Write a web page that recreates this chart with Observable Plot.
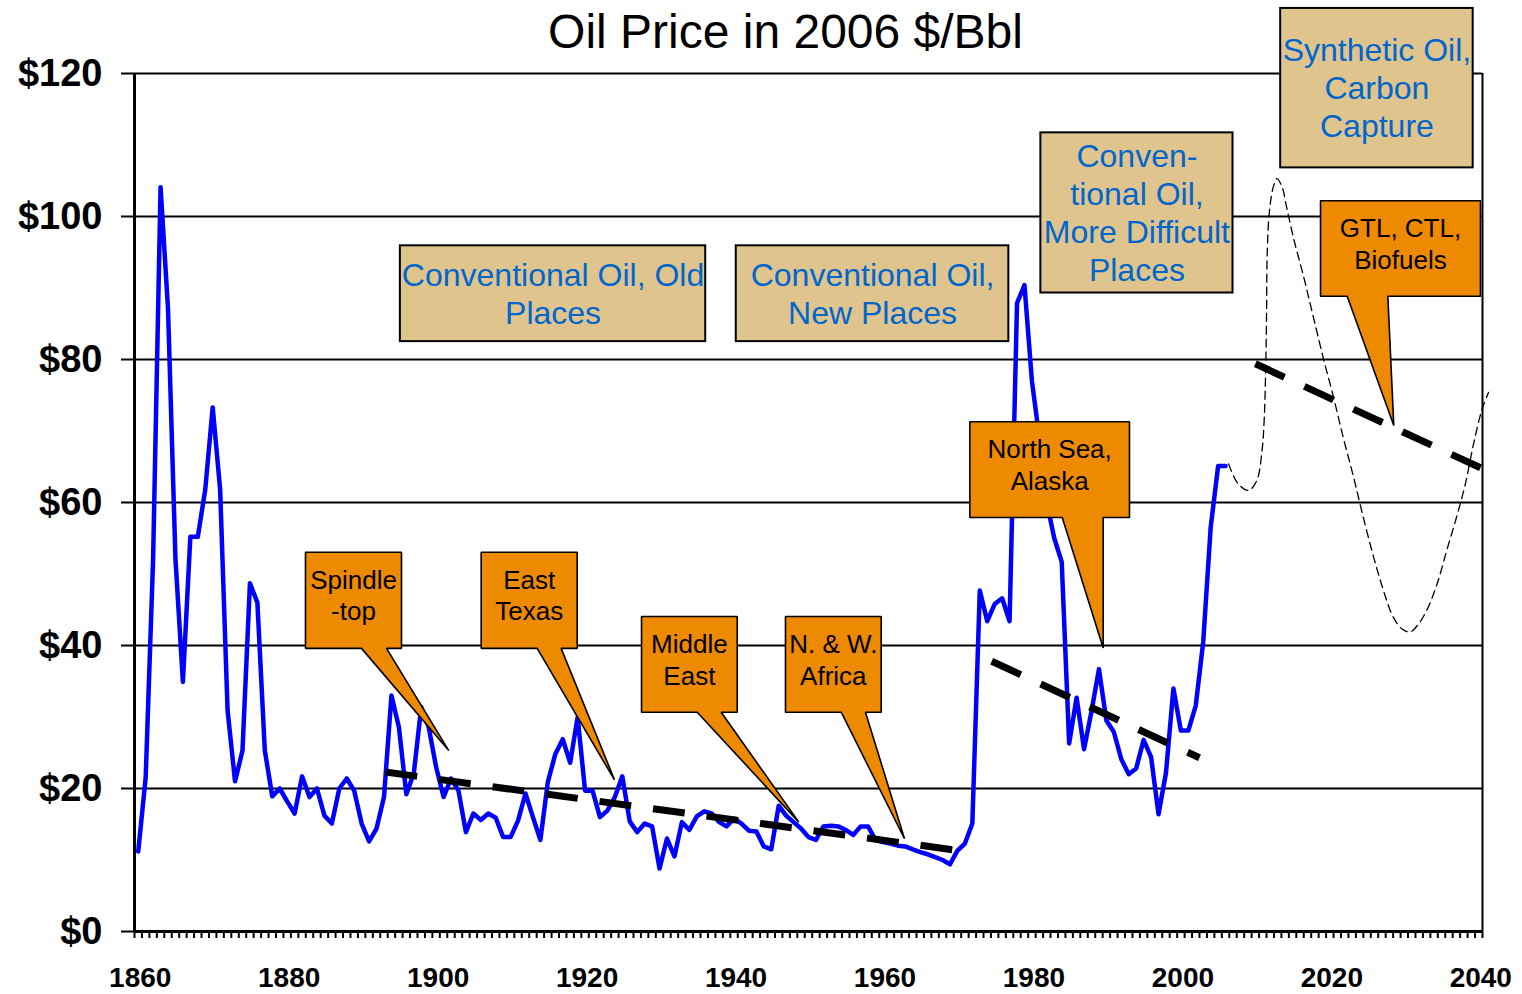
<!DOCTYPE html>
<html><head><meta charset="utf-8">
<script src="https://cdn.jsdelivr.net/npm/d3@7"></script>
<script src="https://cdn.jsdelivr.net/npm/@observablehq/plot@0.6"></script>
<style>html,body{margin:0;padding:0;background:#fff} svg{display:block}</style>
</head><body><div id="chart"></div>
<script>
// ---- Historical oil price, 2006 $/Bbl, one value per year starting 1860 ----
const startYear = 1860;
const price = [
  11.2, 21.5, 52.1, 104.1, 87.1, 52.1, 34.9, 55.2, 55.2, 61.8,   // 1860-1869
  73.3, 61.8, 30.9, 21.0, 25.3, 48.7, 46.0, 25.3, 18.9, 20.0,    // 1870-1879
  18.2, 16.5, 21.7, 18.8, 20.0, 16.2, 15.1, 20.0, 21.4, 19.7,    // 1880-1889
  15.1, 12.6, 14.4, 18.8, 33.0, 28.6, 19.2, 22.1, 31.4, 28.6,    // 1890-1899
  23.0, 18.8, 21.4, 19.7, 13.9, 16.5, 15.6, 16.5, 15.9, 13.2,    // 1900-1909
  13.2, 15.5, 19.3, 16.0, 12.8, 20.9, 24.8, 26.9, 23.6, 30.0,    // 1910-1919
  19.7, 19.7, 16.0, 16.9, 18.8, 21.7, 15.4, 13.9, 15.1, 14.7,    // 1920-1929
  8.8, 13.0, 10.5, 15.3, 14.2, 16.1, 16.8, 16.5, 15.3, 14.7,     // 1930-1939
  15.8, 15.1, 14.1, 14.0, 11.9, 11.5, 17.6, 16.2, 15.3, 14.4,    // 1940-1949
  13.2, 12.8, 14.7, 14.8, 14.7, 14.2, 13.5, 14.7, 14.7, 12.8,    // 1950-1959
  12.5, 12.3, 12.0, 11.9, 11.5, 11.1, 10.8, 10.4, 10.0, 9.4,     // 1960-1969
  11.3, 12.3, 15.1, 47.7, 43.4, 45.8, 46.6, 43.4, 87.9, 90.4,    // 1970-1979
  77.0, 69.0, 60.0, 55.0, 51.7, 26.3, 32.7, 25.5, 30.8, 36.7,    // 1980-1989
  29.5, 27.9, 24.1, 22.0, 22.8, 26.8, 24.4, 16.4, 22.2, 34.0,    // 1990-1999
  28.1, 28.1, 31.6, 40.5, 56.5, 65.1, 65.1                       // 2000-2006
];

// ---- Thin dashed scenario curve ----
const forecastYear  = [2006.4, 2007.7, 2009.1, 2010.2, 2010.9, 2011.2, 2011.4, 2011.5, 2011.6, 2011.9, 2012.4, 2012.9, 2013.6, 2014.2, 2015.1, 2016.5, 2017.8, 2019.1, 2020.5, 2021.8, 2023.2, 2024.5, 2025.9, 2027.2, 2028.5, 2029.7, 2030.8, 2031.9, 2033.0, 2034.4, 2035.7, 2037.0, 2038.2, 2039.3, 2040.4, 2041.3];
const forecastPrice = [65.4, 62.6, 61.7, 63.1, 67.3, 71.9, 79.4, 85.9, 95.2, 100.8, 104.1, 105.3, 104.1, 101.3, 97.1, 91.5, 85.9, 80.3, 74.7, 69.1, 63.5, 57.9, 52.3, 47.7, 44.0, 42.3, 41.9, 43.0, 44.9, 48.6, 53.3, 57.9, 62.6, 68.2, 72.9, 75.4];

// ---- Thick dashed trend lines ----
const trendId    = ["old", "old", "mid", "mid", "new", "new"];
const trendYear  = [1893.2, 1970.3, 1974.6, 2002.5, 2010.0, 2041.6];
const trendPrice = [22.3, 11.3, 37.8, 24.3, 79.4, 64.2];

// ---- Axis ticks ----
const yTicks = [0, 20, 40, 60, 80, 100, 120];
const xLabelYears = [1860, 1880, 1900, 1920, 1940, 1960, 1980, 2000, 2020, 2040];

// ---- Orange callouts (anchors in data units: years / $) ----
const callouts = [
  {label: "Spindle\n-top",        x1: 1882.46, x2: 1895.35, top: 53.05, bottom: 39.6,  b1: 1889.98, b2: 1893.34, tipX: 1901.7,  tipY: 25.3},
  {label: "East\nTexas",          x1: 1906.05, x2: 1918.94, top: 53.05, bottom: 39.6,  b1: 1913.57, b2: 1916.79, tipX: 1923.95, tipY: 21.2},
  {label: "Middle\nEast",         x1: 1927.58, x2: 1940.43, top: 44.06, bottom: 30.67, b1: 1935.06, b2: 1938.28, tipX: 1948.7,  tipY: 15.3},
  {label: "N. & W.\nAfrica",      x1: 1946.91, x2: 1959.76, top: 44.06, bottom: 30.67, b1: 1954.39, b2: 1957.65, tipX: 1962.89, tipY: 12.97},
  {label: "North Sea,\nAlaska",   x1: 1971.66, x2: 1993.10, top: 71.29, bottom: 57.9,  b1: 1984.07, b2: 1989.57, tipX: 1989.57, tipY: 39.66},
  {label: "GTL, CTL,\nBiofuels",  x1: 2018.75, x2: 2040.23, top: 102.2, bottom: 88.85, b1: 2022.33, b2: 2027.79, tipX: 2028.59, tipY: 70.77}
];

// ---- Tan era boxes ----
const eras = [
  {label: "Conventional Oil, Old\nPlaces",                  x1: 1895.2, x2: 1936.2, top: 95.9,  bottom: 82.5},
  {label: "Conventional Oil,\nNew Places",                  x1: 1940.3, x2: 1976.9, top: 95.9,  bottom: 82.5},
  {label: "Conven-\ntional Oil,\nMore Difficult\nPlaces",   x1: 1981.2, x2: 2007.0, top: 111.7, bottom: 89.3},
  {label: "Synthetic Oil,\nCarbon\nCapture",                x1: 2013.4, x2: 2039.25, top: 129.1, bottom: 106.8}
];

// ---- derived tables ----
const series = price.map((p, i) => ({year: startYear + i, price: p}));
const forecast = forecastYear.map((yr, i) => ({year: yr, price: forecastPrice[i]}));
const trend = trendYear.map((yr, i) => ({id: trendId[i], year: yr, price: trendPrice[i]}));
const xBoundaries = d3.range(startYear - 0.5, 2041, 1);
const calloutPoly = callouts.flatMap((c, k) => [
  [c.x1, c.top], [c.x2, c.top], [c.x2, c.bottom], [c.b2, c.bottom],
  [c.tipX, c.tipY], [c.b1, c.bottom], [c.x1, c.bottom]
].map(([x, y]) => ({id: k, x, y})));

const font = "'Liberation Sans', Arial, Helvetica, sans-serif";
const chart = Plot.plot({
  width: 1522, height: 994,
  marginLeft: 134, marginRight: 40, marginTop: 73, marginBottom: 63,
  x: {domain: [1859.5, 2040.5], axis: null, label: null},
  y: {domain: [0, 120], axis: null, label: null},
  style: {fontFamily: font, background: "white", overflow: "visible", color: "black"},
  marks: [
    Plot.gridY(yTicks.filter(d => d > 0), {stroke: "black", strokeOpacity: 1, strokeWidth: 2}),
    Plot.line(series, {x: "year", y: "price", stroke: "#0000FF", strokeWidth: 4.5, strokeLinejoin: "round"}),
    Plot.line(forecast, {x: "year", y: "price", stroke: "black", strokeWidth: 1.3, strokeDasharray: "8,5", curve: "catmull-rom"}),
    Plot.line(trend, {x: "year", y: "price", z: "id", stroke: "black", strokeWidth: 7, strokeDasharray: "32,22", strokeLinecap: "butt"}),
    Plot.line(calloutPoly, {x: "x", y: "y", z: "id", fill: "#EE8A00", stroke: "black", strokeWidth: 1.6, strokeLinejoin: "miter", curve: "linear-closed"}),
    Plot.text(callouts, {x: d => (d.x1 + d.x2) / 2, y: d => (d.top + d.bottom) / 2, text: "label", dy: -6, fontSize: 26, lineHeight: 1.23, lineAnchor: "middle", fill: "black"}),
    Plot.rect(eras, {x1: "x1", x2: "x2", y1: "bottom", y2: "top", fill: "#E0C48E", stroke: "black", strokeWidth: 2}),
    Plot.text(eras, {x: d => (d.x1 + d.x2) / 2, y: d => (d.top + d.bottom) / 2, text: "label", dy: -1, fontSize: 32, lineHeight: 1.19, lineAnchor: "middle", fill: "#0066CC"}),
    Plot.ruleX([1859.5], {stroke: "black", strokeWidth: 3}),
    Plot.ruleX([2040.5], {stroke: "black", strokeWidth: 2}),
    Plot.ruleY([0], {stroke: "black", strokeWidth: 3}),
    Plot.axisY(yTicks, {label: null, tickSize: 13, tickPadding: 19, tickFormat: d => "$" + d, fontSize: 38, fontWeight: "bold", strokeWidth: 2}),
    Plot.axisX(xBoundaries, {label: null, tickSize: 7, tickFormat: () => "", strokeWidth: 2}),
    Plot.axisX(xLabelYears, {label: null, tickSize: 0, tickPadding: 36, dx: 2, tickFormat: d => String(d), fontSize: 28, fontWeight: "bold"}),
    Plot.text(["Oil Price in 2006 $/Bbl"], {frameAnchor: "top", dx: -23, dy: -26, lineAnchor: "bottom", fontSize: 48, fill: "black"})
  ]
});
document.getElementById("chart").appendChild(chart);
</script>
</body></html>
